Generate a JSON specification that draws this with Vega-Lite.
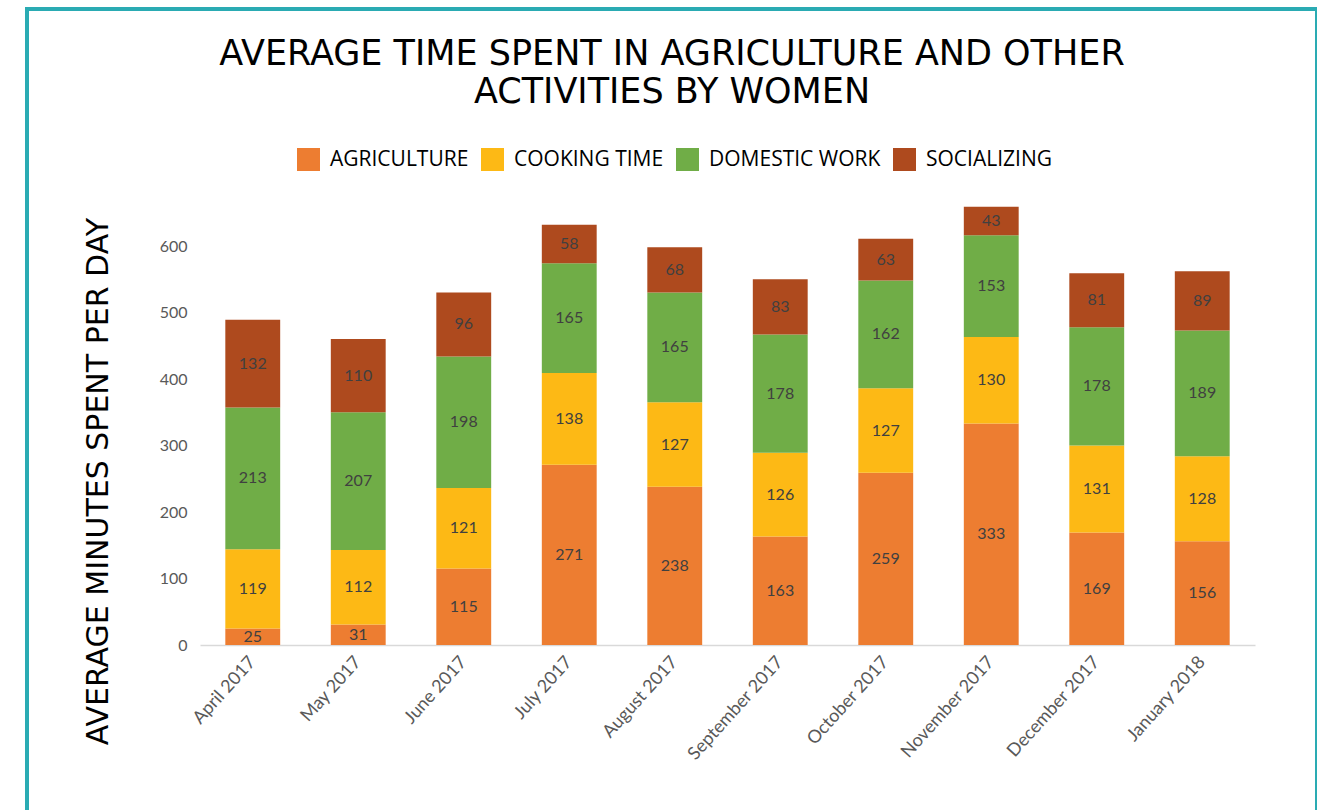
{
  "$schema": "https://vega.github.io/schema/vega-lite/v6.json",
  "autosize": "none",
  "padding": {"left": 27, "top": 9, "right": 0, "bottom": 0},
  "width": 1290,
  "height": 820,
  "background": "white",
  "title": {
    "text": ["AVERAGE TIME SPENT IN AGRICULTURE AND OTHER", "ACTIVITIES BY WOMEN"],
    "font": "DejaVu Sans",
    "fontSize": 35,
    "fontWeight": "normal",
    "color": "#000000",
    "anchor": "middle",
    "lineHeight": 38,
    "offset": -101
  },
  "data": {
    "values": [
      {"month": "April 2017", "activity": "AGRICULTURE", "minutes": 25},
      {"month": "April 2017", "activity": "COOKING TIME", "minutes": 119},
      {"month": "April 2017", "activity": "DOMESTIC WORK", "minutes": 213},
      {"month": "April 2017", "activity": "SOCIALIZING", "minutes": 132},
      {"month": "May 2017", "activity": "AGRICULTURE", "minutes": 31},
      {"month": "May 2017", "activity": "COOKING TIME", "minutes": 112},
      {"month": "May 2017", "activity": "DOMESTIC WORK", "minutes": 207},
      {"month": "May 2017", "activity": "SOCIALIZING", "minutes": 110},
      {"month": "June 2017", "activity": "AGRICULTURE", "minutes": 115},
      {"month": "June 2017", "activity": "COOKING TIME", "minutes": 121},
      {"month": "June 2017", "activity": "DOMESTIC WORK", "minutes": 198},
      {"month": "June 2017", "activity": "SOCIALIZING", "minutes": 96},
      {"month": "July 2017", "activity": "AGRICULTURE", "minutes": 271},
      {"month": "July 2017", "activity": "COOKING TIME", "minutes": 138},
      {"month": "July 2017", "activity": "DOMESTIC WORK", "minutes": 165},
      {"month": "July 2017", "activity": "SOCIALIZING", "minutes": 58},
      {"month": "August 2017", "activity": "AGRICULTURE", "minutes": 238},
      {"month": "August 2017", "activity": "COOKING TIME", "minutes": 127},
      {"month": "August 2017", "activity": "DOMESTIC WORK", "minutes": 165},
      {"month": "August 2017", "activity": "SOCIALIZING", "minutes": 68},
      {"month": "September 2017", "activity": "AGRICULTURE", "minutes": 163},
      {"month": "September 2017", "activity": "COOKING TIME", "minutes": 126},
      {"month": "September 2017", "activity": "DOMESTIC WORK", "minutes": 178},
      {"month": "September 2017", "activity": "SOCIALIZING", "minutes": 83},
      {"month": "October 2017", "activity": "AGRICULTURE", "minutes": 259},
      {"month": "October 2017", "activity": "COOKING TIME", "minutes": 127},
      {"month": "October 2017", "activity": "DOMESTIC WORK", "minutes": 162},
      {"month": "October 2017", "activity": "SOCIALIZING", "minutes": 63},
      {"month": "November 2017", "activity": "AGRICULTURE", "minutes": 333},
      {"month": "November 2017", "activity": "COOKING TIME", "minutes": 130},
      {"month": "November 2017", "activity": "DOMESTIC WORK", "minutes": 153},
      {"month": "November 2017", "activity": "SOCIALIZING", "minutes": 43},
      {"month": "December 2017", "activity": "AGRICULTURE", "minutes": 169},
      {"month": "December 2017", "activity": "COOKING TIME", "minutes": 131},
      {"month": "December 2017", "activity": "DOMESTIC WORK", "minutes": 178},
      {"month": "December 2017", "activity": "SOCIALIZING", "minutes": 81},
      {"month": "January 2018", "activity": "AGRICULTURE", "minutes": 156},
      {"month": "January 2018", "activity": "COOKING TIME", "minutes": 128},
      {"month": "January 2018", "activity": "DOMESTIC WORK", "minutes": 189},
      {"month": "January 2018", "activity": "SOCIALIZING", "minutes": 89}
    ]
  },
  "encoding": {
    "x": {
      "field": "month",
      "type": "nominal",
      "sort": null,
      "scale": {"range": [173, 1228], "paddingInner": 0.48, "paddingOuter": 0.24},
      "axis": {
        "title": null,
        "offset": -184,
        "orient": "bottom",
        "domainColor": "#D9D9D9",
        "domainWidth": 1.5,
        "ticks": false,
        "tickSize": 0,
        "labelAngle": -48,
        "labelAlign": "right",
        "labelBaseline": "middle",
        "labelPadding": 14,
        "labelFont": "Lato",
        "labelFontSize": 18,
        "labelColor": "#595959",
        "grid": false
      }
    }
  },
  "layer": [
    {
      "mark": {"type": "bar"},
      "encoding": {
        "y": {
          "field": "minutes",
          "type": "quantitative",
          "stack": "zero",
          "scale": {"domain": [0, 600], "range": [636, 237], "nice": false, "zero": true},
          "axis": {
            "title": "AVERAGE MINUTES SPENT PER DAY",
            "titleFont": "DejaVu Sans",
            "titleFontSize": 30,
            "titleFontWeight": "normal",
            "titleColor": "#000000",
            "titleX": -83,
            "titleY": 472,
            "titleAngle": -90,
            "titleAlign": "center",
            "titleBaseline": "alphabetic",
            "offset": -163,
            "values": [0, 100, 200, 300, 400, 500, 600],
            "domain": false,
            "ticks": false,
            "tickSize": 0,
            "grid": false,
            "labelPadding": 3,
            "labelFont": "Lato",
            "labelFontSize": 16,
            "labelColor": "#595959"
          }
        },
        "color": {
          "field": "activity",
          "type": "nominal",
          "scale": {
            "domain": ["AGRICULTURE", "COOKING TIME", "DOMESTIC WORK", "SOCIALIZING"],
            "range": ["#ED7D31", "#FDB915", "#70AD47", "#AE4A1E"]
          },
          "legend": {
            "title": null,
            "orient": "none",
            "direction": "horizontal",
            "legendX": 270,
            "legendY": 139,
            "padding": 0,
            "symbolType": "square",
            "symbolSize": 529,
            "symbolStrokeWidth": 0,
            "symbolOpacity": 1,
            "labelFont": "Open Sans",
            "labelFontSize": 21,
            "labelColor": "#000000",
            "labelOffset": 10,
            "columnPadding": 12,
            "labelLimit": 300
          }
        },
        "order": {"field": "activity", "sort": "ascending"}
      }
    },
    {
      "mark": {"type": "text", "font": "Lato", "fontSize": 16, "color": "#404040", "baseline": "middle", "align": "center"},
      "encoding": {
        "y": {"field": "minutes", "type": "quantitative", "stack": "zero", "bandPosition": 0.5},
        "detail": {"field": "activity", "type": "nominal"},
        "order": {"field": "activity", "sort": "ascending"},
        "text": {"field": "minutes", "type": "quantitative"}
      }
    }
  ],
  "config": {
    "view": {"stroke": "#2AABB3", "strokeWidth": 4, "fill": "white"}
  }
}
